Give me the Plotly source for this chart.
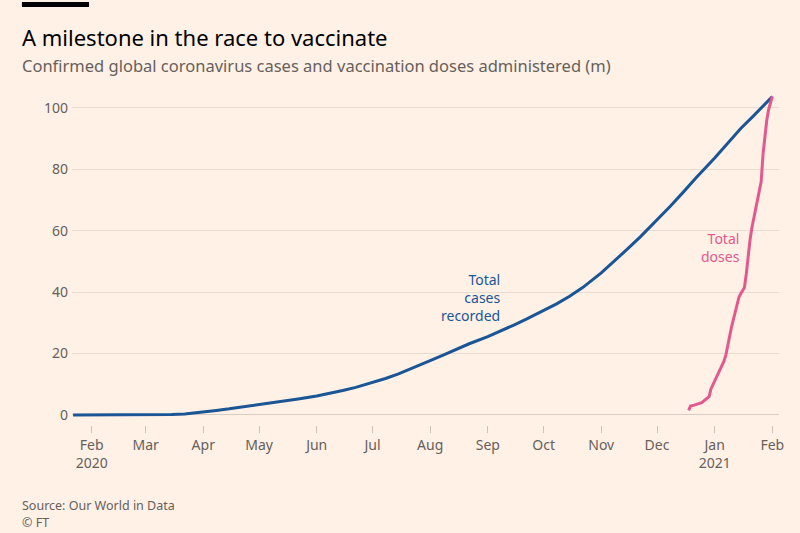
import plotly.graph_objects as go

# Confirmed global cases (m)
case_dates = ["2020-01-22", "2020-02-01", "2020-02-15", "2020-03-01", "2020-03-08", "2020-03-15",
              "2020-03-22", "2020-04-01", "2020-04-08", "2020-04-15", "2020-04-22", "2020-05-01",
              "2020-05-08", "2020-05-15", "2020-05-22", "2020-06-01", "2020-06-08", "2020-06-15",
              "2020-06-22", "2020-07-01", "2020-07-08", "2020-07-15", "2020-07-22", "2020-08-01",
              "2020-08-08", "2020-08-15", "2020-08-22", "2020-09-01", "2020-09-08", "2020-09-15",
              "2020-09-22", "2020-10-01", "2020-10-08", "2020-10-15", "2020-10-22", "2020-11-01",
              "2020-11-08", "2020-11-15", "2020-11-22", "2020-12-01", "2020-12-08", "2020-12-15",
              "2020-12-22", "2021-01-01", "2021-01-08", "2021-01-15", "2021-01-22", "2021-02-01"]
case_values = [0.0006, 0.012, 0.069, 0.088, 0.11, 0.17,
               0.34, 0.93, 1.5, 2.0, 2.6, 3.3,
               3.9, 4.5, 5.2, 6.2, 7.0, 8.0,
               9.0, 10.5, 11.9, 13.4, 15.1, 17.7,
               19.5, 21.3, 23.2, 25.5, 27.3, 29.3,
               31.3, 34.0, 36.2, 38.7, 41.5, 46.3,
               50.0, 54.0, 58.0, 63.5, 67.9, 72.5,
               77.3, 83.7, 88.6, 93.3, 97.5, 103.7]

# Vaccination doses administered (m)
dose_dates = ["2020-12-18", "2020-12-19", "2020-12-21", "2020-12-23", "2020-12-25", "2020-12-27",
              "2020-12-29", "2020-12-30", "2020-12-31", "2021-01-01", "2021-01-02", "2021-01-04",
              "2021-01-06", "2021-01-07", "2021-01-08", "2021-01-09", "2021-01-10", "2021-01-11",
              "2021-01-12", "2021-01-13", "2021-01-14", "2021-01-15", "2021-01-16", "2021-01-17",
              "2021-01-18", "2021-01-19", "2021-01-20", "2021-01-21", "2021-01-22", "2021-01-23",
              "2021-01-24", "2021-01-25", "2021-01-26", "2021-01-27", "2021-01-28", "2021-01-29",
              "2021-01-30", "2021-01-31", "2021-02-01"]
dose_values = [1.5, 2.9, 3.2, 3.6, 4.0, 5.0,
               6.0, 8.5, 9.8, 11.0, 12.3, 14.5,
               17.5, 19.5, 23.0, 25.5, 28.5, 31.0,
               33.5, 35.5, 38.3, 39.5, 40.5, 41.5,
               46.0, 52.0, 57.0, 61.0, 64.0, 66.5,
               69.5, 72.3, 76.0, 85.0, 91.0, 96.0,
               99.5, 102.0, 103.8]

tick_dates = ["2020-02-01", "2020-03-01", "2020-04-01", "2020-05-01", "2020-06-01", "2020-07-01",
              "2020-08-01", "2020-09-01", "2020-10-01", "2020-11-01", "2020-12-01", "2021-01-01",
              "2021-02-01"]
tick_labels = ["Feb<br>2020", "Mar", "Apr", "May", "Jun", "Jul", "Aug", "Sep", "Oct", "Nov", "Dec",
               "Jan<br>2021", "Feb"]
y_ticks = [0, 20, 40, 60, 80, 100]

BG = "#FFF1E5"
BLUE = "#1A5596"
PINK = "#E5588E"
FONT = "Noto Sans"

fig = go.Figure()
fig.add_trace(go.Scatter(x=case_dates, y=case_values, mode="lines",
                         line=dict(color=BLUE, width=3), cliponaxis=False, hoverinfo="skip"))
fig.add_trace(go.Scatter(x=dose_dates, y=dose_values, mode="lines",
                         line=dict(color=PINK, width=3), cliponaxis=False, hoverinfo="skip"))

fig.update_layout(
    width=800, height=533,
    paper_bgcolor=BG, plot_bgcolor=BG,
    showlegend=False,
    margin=dict(l=72, r=21, t=88, b=108),
    font=dict(family=FONT, color="#66605C", size=14),
    xaxis=dict(
        type="date",
        range=["2020-01-21 10:00", "2021-02-04 14:00"],
        tickvals=tick_dates, ticktext=tick_labels,
        ticks="outside", ticklen=7, tickcolor="#CFC3B8", tickwidth=1,
        showgrid=False, zeroline=False, showline=False,
        tickfont=dict(size=14, color="#66605C"),
        ticklabelstandoff=0,
    ),
    yaxis=dict(
        range=[-3.26, 106.5],
        tickvals=y_ticks,
        showgrid=True, gridcolor="#E8DCD1", gridwidth=1,
        zeroline=True, zerolinecolor="#D9CCC1", zerolinewidth=1,
        showline=False, ticks="",
        tickfont=dict(size=14, color="#66605C"),
        ticklabelstandoff=3,
    ),
)

fig.add_shape(type="rect", xref="paper", yref="paper", x0=-50/706, x1=17/706,
              y0=1 + (88 - 7) / 337, y1=1 + (88 - 2) / 337,
              fillcolor="#000000", line_width=0)

fig.add_annotation(xref="paper", yref="paper", x=-52/706, y=1 + (88 - 37) / 337,
                   text="A milestone in the race to vaccinate", showarrow=False,
                   xanchor="left", yanchor="middle",
                   font=dict(family=FONT, size=22, color="#000000"))
fig.add_annotation(xref="paper", yref="paper", x=-52/706, y=1 + (88 - 65) / 337,
                   text="Confirmed global coronavirus cases and vaccination doses administered (m)",
                   showarrow=False, xanchor="left", yanchor="middle",
                   font=dict(family=FONT, size=16.5, color="#66605C"))
fig.add_annotation(xref="paper", yref="paper", x=-52/706, y=-(505 - 425) / 337,
                   text="Source: Our World in Data", showarrow=False,
                   xanchor="left", yanchor="middle",
                   font=dict(family=FONT, size=12.5, color="#66605C"))
fig.add_annotation(xref="paper", yref="paper", x=-52/706, y=-(522 - 425) / 337,
                   text="© FT", showarrow=False,
                   xanchor="left", yanchor="middle",
                   font=dict(family=FONT, size=12.5, color="#66605C"))

fig.add_annotation(x="2020-09-09", y=(415 - 298) / 3.07,
                   text="Total<br>cases<br>recorded", showarrow=False,
                   xanchor="right", yanchor="middle", align="right",
                   font=dict(family=FONT, size=14, color=BLUE))
fig.add_annotation(x="2021-01-15 12:00", y=(415 - 247.5) / 3.07,
                   text="Total<br>doses", showarrow=False,
                   xanchor="right", yanchor="middle", align="right",
                   font=dict(family=FONT, size=14, color=PINK))

fig.write_html("out.html", config={"displayModeBar": False},
               post_script="document.body.style.margin='0px';document.body.style.background='" + BG + "';")
